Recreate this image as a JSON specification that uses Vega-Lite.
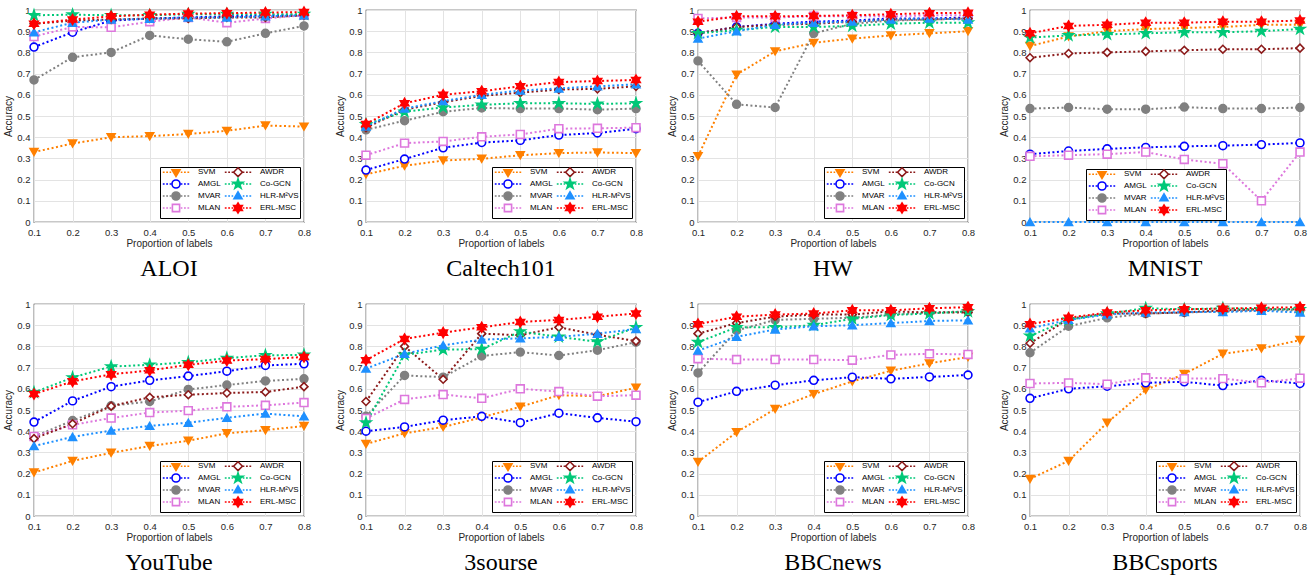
{
"$schema":"https://vega.github.io/schema/vega-lite/v6.json",
"background":"white",
"padding":{"left":3,"top":3,"right":0,"bottom":0},
"data":{"values":[
{"d":"ALOI","m":"SVM","x":0.1,"y":0.33},{"d":"ALOI","m":"SVM","x":0.2,"y":0.37},{"d":"ALOI","m":"SVM","x":0.3,"y":0.40},{"d":"ALOI","m":"SVM","x":0.4,"y":0.405},{"d":"ALOI","m":"SVM","x":0.5,"y":0.415},{"d":"ALOI","m":"SVM","x":0.6,"y":0.43},{"d":"ALOI","m":"SVM","x":0.7,"y":0.455},{"d":"ALOI","m":"SVM","x":0.8,"y":0.45},
{"d":"ALOI","m":"AMGL","x":0.1,"y":0.825},{"d":"ALOI","m":"AMGL","x":0.2,"y":0.895},{"d":"ALOI","m":"AMGL","x":0.3,"y":0.95},{"d":"ALOI","m":"AMGL","x":0.4,"y":0.96},{"d":"ALOI","m":"AMGL","x":0.5,"y":0.965},{"d":"ALOI","m":"AMGL","x":0.6,"y":0.97},{"d":"ALOI","m":"AMGL","x":0.7,"y":0.975},{"d":"ALOI","m":"AMGL","x":0.8,"y":0.975},
{"d":"ALOI","m":"MVAR","x":0.1,"y":0.67},{"d":"ALOI","m":"MVAR","x":0.2,"y":0.777},{"d":"ALOI","m":"MVAR","x":0.3,"y":0.80},{"d":"ALOI","m":"MVAR","x":0.4,"y":0.88},{"d":"ALOI","m":"MVAR","x":0.5,"y":0.862},{"d":"ALOI","m":"MVAR","x":0.6,"y":0.85},{"d":"ALOI","m":"MVAR","x":0.7,"y":0.89},{"d":"ALOI","m":"MVAR","x":0.8,"y":0.925},
{"d":"ALOI","m":"MLAN","x":0.1,"y":0.875},{"d":"ALOI","m":"MLAN","x":0.2,"y":0.92},{"d":"ALOI","m":"MLAN","x":0.3,"y":0.918},{"d":"ALOI","m":"MLAN","x":0.4,"y":0.945},{"d":"ALOI","m":"MLAN","x":0.5,"y":0.965},{"d":"ALOI","m":"MLAN","x":0.6,"y":0.94},{"d":"ALOI","m":"MLAN","x":0.7,"y":0.96},{"d":"ALOI","m":"MLAN","x":0.8,"y":0.975},
{"d":"ALOI","m":"AWDR","x":0.1,"y":0.935},{"d":"ALOI","m":"AWDR","x":0.2,"y":0.95},{"d":"ALOI","m":"AWDR","x":0.3,"y":0.955},{"d":"ALOI","m":"AWDR","x":0.4,"y":0.96},{"d":"ALOI","m":"AWDR","x":0.5,"y":0.96},{"d":"ALOI","m":"AWDR","x":0.6,"y":0.965},{"d":"ALOI","m":"AWDR","x":0.7,"y":0.965},{"d":"ALOI","m":"AWDR","x":0.8,"y":0.975},
{"d":"ALOI","m":"Co-GCN","x":0.1,"y":0.975},{"d":"ALOI","m":"Co-GCN","x":0.2,"y":0.978},{"d":"ALOI","m":"Co-GCN","x":0.3,"y":0.975},{"d":"ALOI","m":"Co-GCN","x":0.4,"y":0.975},{"d":"ALOI","m":"Co-GCN","x":0.5,"y":0.98},{"d":"ALOI","m":"Co-GCN","x":0.6,"y":0.98},{"d":"ALOI","m":"Co-GCN","x":0.7,"y":0.98},{"d":"ALOI","m":"Co-GCN","x":0.8,"y":0.98},
{"d":"ALOI","m":"HLR-M²VS","x":0.1,"y":0.895},{"d":"ALOI","m":"HLR-M²VS","x":0.2,"y":0.94},{"d":"ALOI","m":"HLR-M²VS","x":0.3,"y":0.955},{"d":"ALOI","m":"HLR-M²VS","x":0.4,"y":0.958},{"d":"ALOI","m":"HLR-M²VS","x":0.5,"y":0.965},{"d":"ALOI","m":"HLR-M²VS","x":0.6,"y":0.965},{"d":"ALOI","m":"HLR-M²VS","x":0.7,"y":0.97},{"d":"ALOI","m":"HLR-M²VS","x":0.8,"y":0.975},
{"d":"ALOI","m":"ERL-MSC","x":0.1,"y":0.935},{"d":"ALOI","m":"ERL-MSC","x":0.2,"y":0.955},{"d":"ALOI","m":"ERL-MSC","x":0.3,"y":0.97},{"d":"ALOI","m":"ERL-MSC","x":0.4,"y":0.978},{"d":"ALOI","m":"ERL-MSC","x":0.5,"y":0.983},{"d":"ALOI","m":"ERL-MSC","x":0.6,"y":0.985},{"d":"ALOI","m":"ERL-MSC","x":0.7,"y":0.988},{"d":"ALOI","m":"ERL-MSC","x":0.8,"y":0.99},

{"d":"Caltech101","m":"SVM","x":0.1,"y":0.225},{"d":"Caltech101","m":"SVM","x":0.2,"y":0.265},{"d":"Caltech101","m":"SVM","x":0.3,"y":0.29},{"d":"Caltech101","m":"SVM","x":0.4,"y":0.298},{"d":"Caltech101","m":"SVM","x":0.5,"y":0.315},{"d":"Caltech101","m":"SVM","x":0.6,"y":0.325},{"d":"Caltech101","m":"SVM","x":0.7,"y":0.328},{"d":"Caltech101","m":"SVM","x":0.8,"y":0.325},
{"d":"Caltech101","m":"AMGL","x":0.1,"y":0.245},{"d":"Caltech101","m":"AMGL","x":0.2,"y":0.297},{"d":"Caltech101","m":"AMGL","x":0.3,"y":0.35},{"d":"Caltech101","m":"AMGL","x":0.4,"y":0.375},{"d":"Caltech101","m":"AMGL","x":0.5,"y":0.385},{"d":"Caltech101","m":"AMGL","x":0.6,"y":0.41},{"d":"Caltech101","m":"AMGL","x":0.7,"y":0.42},{"d":"Caltech101","m":"AMGL","x":0.8,"y":0.44},
{"d":"Caltech101","m":"MVAR","x":0.1,"y":0.435},{"d":"Caltech101","m":"MVAR","x":0.2,"y":0.478},{"d":"Caltech101","m":"MVAR","x":0.3,"y":0.52},{"d":"Caltech101","m":"MVAR","x":0.4,"y":0.538},{"d":"Caltech101","m":"MVAR","x":0.5,"y":0.535},{"d":"Caltech101","m":"MVAR","x":0.6,"y":0.535},{"d":"Caltech101","m":"MVAR","x":0.7,"y":0.53},{"d":"Caltech101","m":"MVAR","x":0.8,"y":0.535},
{"d":"Caltech101","m":"MLAN","x":0.1,"y":0.315},{"d":"Caltech101","m":"MLAN","x":0.2,"y":0.372},{"d":"Caltech101","m":"MLAN","x":0.3,"y":0.38},{"d":"Caltech101","m":"MLAN","x":0.4,"y":0.402},{"d":"Caltech101","m":"MLAN","x":0.5,"y":0.413},{"d":"Caltech101","m":"MLAN","x":0.6,"y":0.44},{"d":"Caltech101","m":"MLAN","x":0.7,"y":0.442},{"d":"Caltech101","m":"MLAN","x":0.8,"y":0.445},
{"d":"Caltech101","m":"AWDR","x":0.1,"y":0.445},{"d":"Caltech101","m":"AWDR","x":0.2,"y":0.53},{"d":"Caltech101","m":"AWDR","x":0.3,"y":0.565},{"d":"Caltech101","m":"AWDR","x":0.4,"y":0.595},{"d":"Caltech101","m":"AWDR","x":0.5,"y":0.61},{"d":"Caltech101","m":"AWDR","x":0.6,"y":0.625},{"d":"Caltech101","m":"AWDR","x":0.7,"y":0.628},{"d":"Caltech101","m":"AWDR","x":0.8,"y":0.64},
{"d":"Caltech101","m":"Co-GCN","x":0.1,"y":0.46},{"d":"Caltech101","m":"Co-GCN","x":0.2,"y":0.52},{"d":"Caltech101","m":"Co-GCN","x":0.3,"y":0.54},{"d":"Caltech101","m":"Co-GCN","x":0.4,"y":0.553},{"d":"Caltech101","m":"Co-GCN","x":0.5,"y":0.56},{"d":"Caltech101","m":"Co-GCN","x":0.6,"y":0.56},{"d":"Caltech101","m":"Co-GCN","x":0.7,"y":0.557},{"d":"Caltech101","m":"Co-GCN","x":0.8,"y":0.56},
{"d":"Caltech101","m":"HLR-M²VS","x":0.1,"y":0.45},{"d":"Caltech101","m":"HLR-M²VS","x":0.2,"y":0.535},{"d":"Caltech101","m":"HLR-M²VS","x":0.3,"y":0.57},{"d":"Caltech101","m":"HLR-M²VS","x":0.4,"y":0.60},{"d":"Caltech101","m":"HLR-M²VS","x":0.5,"y":0.62},{"d":"Caltech101","m":"HLR-M²VS","x":0.6,"y":0.63},{"d":"Caltech101","m":"HLR-M²VS","x":0.7,"y":0.64},{"d":"Caltech101","m":"HLR-M²VS","x":0.8,"y":0.65},
{"d":"Caltech101","m":"ERL-MSC","x":0.1,"y":0.462},{"d":"Caltech101","m":"ERL-MSC","x":0.2,"y":0.56},{"d":"Caltech101","m":"ERL-MSC","x":0.3,"y":0.60},{"d":"Caltech101","m":"ERL-MSC","x":0.4,"y":0.617},{"d":"Caltech101","m":"ERL-MSC","x":0.5,"y":0.64},{"d":"Caltech101","m":"ERL-MSC","x":0.6,"y":0.66},{"d":"Caltech101","m":"ERL-MSC","x":0.7,"y":0.665},{"d":"Caltech101","m":"ERL-MSC","x":0.8,"y":0.67},

{"d":"HW","m":"SVM","x":0.1,"y":0.31},{"d":"HW","m":"SVM","x":0.2,"y":0.695},{"d":"HW","m":"SVM","x":0.3,"y":0.805},{"d":"HW","m":"SVM","x":0.4,"y":0.845},{"d":"HW","m":"SVM","x":0.5,"y":0.865},{"d":"HW","m":"SVM","x":0.6,"y":0.88},{"d":"HW","m":"SVM","x":0.7,"y":0.89},{"d":"HW","m":"SVM","x":0.8,"y":0.90},
{"d":"HW","m":"AMGL","x":0.1,"y":0.89},{"d":"HW","m":"AMGL","x":0.2,"y":0.92},{"d":"HW","m":"AMGL","x":0.3,"y":0.935},{"d":"HW","m":"AMGL","x":0.4,"y":0.945},{"d":"HW","m":"AMGL","x":0.5,"y":0.95},{"d":"HW","m":"AMGL","x":0.6,"y":0.96},{"d":"HW","m":"AMGL","x":0.7,"y":0.96},{"d":"HW","m":"AMGL","x":0.8,"y":0.965},
{"d":"HW","m":"MVAR","x":0.1,"y":0.76},{"d":"HW","m":"MVAR","x":0.2,"y":0.555},{"d":"HW","m":"MVAR","x":0.3,"y":0.54},{"d":"HW","m":"MVAR","x":0.4,"y":0.89},{"d":"HW","m":"MVAR","x":0.5,"y":0.935},{"d":"HW","m":"MVAR","x":0.6,"y":0.95},{"d":"HW","m":"MVAR","x":0.7,"y":0.955},{"d":"HW","m":"MVAR","x":0.8,"y":0.96},
{"d":"HW","m":"MLAN","x":0.1,"y":0.96},{"d":"HW","m":"MLAN","x":0.2,"y":0.965},{"d":"HW","m":"MLAN","x":0.3,"y":0.965},{"d":"HW","m":"MLAN","x":0.4,"y":0.97},{"d":"HW","m":"MLAN","x":0.5,"y":0.97},{"d":"HW","m":"MLAN","x":0.6,"y":0.97},{"d":"HW","m":"MLAN","x":0.7,"y":0.975},{"d":"HW","m":"MLAN","x":0.8,"y":0.975},
{"d":"HW","m":"AWDR","x":0.1,"y":0.89},{"d":"HW","m":"AWDR","x":0.2,"y":0.92},{"d":"HW","m":"AWDR","x":0.3,"y":0.93},{"d":"HW","m":"AWDR","x":0.4,"y":0.935},{"d":"HW","m":"AWDR","x":0.5,"y":0.945},{"d":"HW","m":"AWDR","x":0.6,"y":0.955},{"d":"HW","m":"AWDR","x":0.7,"y":0.955},{"d":"HW","m":"AWDR","x":0.8,"y":0.96},
{"d":"HW","m":"Co-GCN","x":0.1,"y":0.89},{"d":"HW","m":"Co-GCN","x":0.2,"y":0.905},{"d":"HW","m":"Co-GCN","x":0.3,"y":0.92},{"d":"HW","m":"Co-GCN","x":0.4,"y":0.92},{"d":"HW","m":"Co-GCN","x":0.5,"y":0.925},{"d":"HW","m":"Co-GCN","x":0.6,"y":0.935},{"d":"HW","m":"Co-GCN","x":0.7,"y":0.94},{"d":"HW","m":"Co-GCN","x":0.8,"y":0.94},
{"d":"HW","m":"HLR-M²VS","x":0.1,"y":0.865},{"d":"HW","m":"HLR-M²VS","x":0.2,"y":0.90},{"d":"HW","m":"HLR-M²VS","x":0.3,"y":0.93},{"d":"HW","m":"HLR-M²VS","x":0.4,"y":0.94},{"d":"HW","m":"HLR-M²VS","x":0.5,"y":0.945},{"d":"HW","m":"HLR-M²VS","x":0.6,"y":0.955},{"d":"HW","m":"HLR-M²VS","x":0.7,"y":0.96},{"d":"HW","m":"HLR-M²VS","x":0.8,"y":0.955},
{"d":"HW","m":"ERL-MSC","x":0.1,"y":0.945},{"d":"HW","m":"ERL-MSC","x":0.2,"y":0.97},{"d":"HW","m":"ERL-MSC","x":0.3,"y":0.97},{"d":"HW","m":"ERL-MSC","x":0.4,"y":0.972},{"d":"HW","m":"ERL-MSC","x":0.5,"y":0.975},{"d":"HW","m":"ERL-MSC","x":0.6,"y":0.98},{"d":"HW","m":"ERL-MSC","x":0.7,"y":0.985},{"d":"HW","m":"ERL-MSC","x":0.8,"y":0.987},

{"d":"MNIST","m":"SVM","x":0.1,"y":0.83},{"d":"MNIST","m":"SVM","x":0.2,"y":0.875},{"d":"MNIST","m":"SVM","x":0.3,"y":0.90},{"d":"MNIST","m":"SVM","x":0.4,"y":0.91},{"d":"MNIST","m":"SVM","x":0.5,"y":0.915},{"d":"MNIST","m":"SVM","x":0.6,"y":0.92},{"d":"MNIST","m":"SVM","x":0.7,"y":0.93},{"d":"MNIST","m":"SVM","x":0.8,"y":0.93},
{"d":"MNIST","m":"AMGL","x":0.1,"y":0.32},{"d":"MNIST","m":"AMGL","x":0.2,"y":0.335},{"d":"MNIST","m":"AMGL","x":0.3,"y":0.345},{"d":"MNIST","m":"AMGL","x":0.4,"y":0.352},{"d":"MNIST","m":"AMGL","x":0.5,"y":0.357},{"d":"MNIST","m":"AMGL","x":0.6,"y":0.36},{"d":"MNIST","m":"AMGL","x":0.7,"y":0.365},{"d":"MNIST","m":"AMGL","x":0.8,"y":0.373},
{"d":"MNIST","m":"MVAR","x":0.1,"y":0.535},{"d":"MNIST","m":"MVAR","x":0.2,"y":0.54},{"d":"MNIST","m":"MVAR","x":0.3,"y":0.532},{"d":"MNIST","m":"MVAR","x":0.4,"y":0.532},{"d":"MNIST","m":"MVAR","x":0.5,"y":0.542},{"d":"MNIST","m":"MVAR","x":0.6,"y":0.535},{"d":"MNIST","m":"MVAR","x":0.7,"y":0.535},{"d":"MNIST","m":"MVAR","x":0.8,"y":0.54},
{"d":"MNIST","m":"MLAN","x":0.1,"y":0.31},{"d":"MNIST","m":"MLAN","x":0.2,"y":0.315},{"d":"MNIST","m":"MLAN","x":0.3,"y":0.32},{"d":"MNIST","m":"MLAN","x":0.4,"y":0.33},{"d":"MNIST","m":"MLAN","x":0.5,"y":0.295},{"d":"MNIST","m":"MLAN","x":0.6,"y":0.275},{"d":"MNIST","m":"MLAN","x":0.7,"y":0.10},{"d":"MNIST","m":"MLAN","x":0.8,"y":0.33},
{"d":"MNIST","m":"AWDR","x":0.1,"y":0.775},{"d":"MNIST","m":"AWDR","x":0.2,"y":0.795},{"d":"MNIST","m":"AWDR","x":0.3,"y":0.80},{"d":"MNIST","m":"AWDR","x":0.4,"y":0.805},{"d":"MNIST","m":"AWDR","x":0.5,"y":0.81},{"d":"MNIST","m":"AWDR","x":0.6,"y":0.815},{"d":"MNIST","m":"AWDR","x":0.7,"y":0.815},{"d":"MNIST","m":"AWDR","x":0.8,"y":0.82},
{"d":"MNIST","m":"Co-GCN","x":0.1,"y":0.87},{"d":"MNIST","m":"Co-GCN","x":0.2,"y":0.88},{"d":"MNIST","m":"Co-GCN","x":0.3,"y":0.885},{"d":"MNIST","m":"Co-GCN","x":0.4,"y":0.89},{"d":"MNIST","m":"Co-GCN","x":0.5,"y":0.895},{"d":"MNIST","m":"Co-GCN","x":0.6,"y":0.895},{"d":"MNIST","m":"Co-GCN","x":0.7,"y":0.90},{"d":"MNIST","m":"Co-GCN","x":0.8,"y":0.91},
{"d":"MNIST","m":"HLR-M²VS","x":0.1,"y":0},{"d":"MNIST","m":"HLR-M²VS","x":0.2,"y":0},{"d":"MNIST","m":"HLR-M²VS","x":0.3,"y":0},{"d":"MNIST","m":"HLR-M²VS","x":0.4,"y":0},{"d":"MNIST","m":"HLR-M²VS","x":0.5,"y":0},{"d":"MNIST","m":"HLR-M²VS","x":0.6,"y":0},{"d":"MNIST","m":"HLR-M²VS","x":0.7,"y":0},{"d":"MNIST","m":"HLR-M²VS","x":0.8,"y":0},
{"d":"MNIST","m":"ERL-MSC","x":0.1,"y":0.89},{"d":"MNIST","m":"ERL-MSC","x":0.2,"y":0.925},{"d":"MNIST","m":"ERL-MSC","x":0.3,"y":0.93},{"d":"MNIST","m":"ERL-MSC","x":0.4,"y":0.94},{"d":"MNIST","m":"ERL-MSC","x":0.5,"y":0.94},{"d":"MNIST","m":"ERL-MSC","x":0.6,"y":0.945},{"d":"MNIST","m":"ERL-MSC","x":0.7,"y":0.945},{"d":"MNIST","m":"ERL-MSC","x":0.8,"y":0.95},

{"d":"YouTube","m":"SVM","x":0.1,"y":0.205},{"d":"YouTube","m":"SVM","x":0.2,"y":0.26},{"d":"YouTube","m":"SVM","x":0.3,"y":0.298},{"d":"YouTube","m":"SVM","x":0.4,"y":0.33},{"d":"YouTube","m":"SVM","x":0.5,"y":0.355},{"d":"YouTube","m":"SVM","x":0.6,"y":0.39},{"d":"YouTube","m":"SVM","x":0.7,"y":0.405},{"d":"YouTube","m":"SVM","x":0.8,"y":0.425},
{"d":"YouTube","m":"AMGL","x":0.1,"y":0.443},{"d":"YouTube","m":"AMGL","x":0.2,"y":0.543},{"d":"YouTube","m":"AMGL","x":0.3,"y":0.61},{"d":"YouTube","m":"AMGL","x":0.4,"y":0.64},{"d":"YouTube","m":"AMGL","x":0.5,"y":0.66},{"d":"YouTube","m":"AMGL","x":0.6,"y":0.683},{"d":"YouTube","m":"AMGL","x":0.7,"y":0.71},{"d":"YouTube","m":"AMGL","x":0.8,"y":0.718},
{"d":"YouTube","m":"MVAR","x":0.1,"y":0.375},{"d":"YouTube","m":"MVAR","x":0.2,"y":0.45},{"d":"YouTube","m":"MVAR","x":0.3,"y":0.52},{"d":"YouTube","m":"MVAR","x":0.4,"y":0.54},{"d":"YouTube","m":"MVAR","x":0.5,"y":0.597},{"d":"YouTube","m":"MVAR","x":0.6,"y":0.618},{"d":"YouTube","m":"MVAR","x":0.7,"y":0.637},{"d":"YouTube","m":"MVAR","x":0.8,"y":0.647},
{"d":"YouTube","m":"MLAN","x":0.1,"y":0.375},{"d":"YouTube","m":"MLAN","x":0.2,"y":0.43},{"d":"YouTube","m":"MLAN","x":0.3,"y":0.462},{"d":"YouTube","m":"MLAN","x":0.4,"y":0.488},{"d":"YouTube","m":"MLAN","x":0.5,"y":0.497},{"d":"YouTube","m":"MLAN","x":0.6,"y":0.515},{"d":"YouTube","m":"MLAN","x":0.7,"y":0.522},{"d":"YouTube","m":"MLAN","x":0.8,"y":0.535},
{"d":"YouTube","m":"AWDR","x":0.1,"y":0.365},{"d":"YouTube","m":"AWDR","x":0.2,"y":0.435},{"d":"YouTube","m":"AWDR","x":0.3,"y":0.518},{"d":"YouTube","m":"AWDR","x":0.4,"y":0.56},{"d":"YouTube","m":"AWDR","x":0.5,"y":0.572},{"d":"YouTube","m":"AWDR","x":0.6,"y":0.58},{"d":"YouTube","m":"AWDR","x":0.7,"y":0.585},{"d":"YouTube","m":"AWDR","x":0.8,"y":0.61},
{"d":"YouTube","m":"Co-GCN","x":0.1,"y":0.583},{"d":"YouTube","m":"Co-GCN","x":0.2,"y":0.653},{"d":"YouTube","m":"Co-GCN","x":0.3,"y":0.705},{"d":"YouTube","m":"Co-GCN","x":0.4,"y":0.713},{"d":"YouTube","m":"Co-GCN","x":0.5,"y":0.725},{"d":"YouTube","m":"Co-GCN","x":0.6,"y":0.745},{"d":"YouTube","m":"Co-GCN","x":0.7,"y":0.758},{"d":"YouTube","m":"Co-GCN","x":0.8,"y":0.76},
{"d":"YouTube","m":"HLR-M²VS","x":0.1,"y":0.33},{"d":"YouTube","m":"HLR-M²VS","x":0.2,"y":0.373},{"d":"YouTube","m":"HLR-M²VS","x":0.3,"y":0.403},{"d":"YouTube","m":"HLR-M²VS","x":0.4,"y":0.425},{"d":"YouTube","m":"HLR-M²VS","x":0.5,"y":0.44},{"d":"YouTube","m":"HLR-M²VS","x":0.6,"y":0.463},{"d":"YouTube","m":"HLR-M²VS","x":0.7,"y":0.483},{"d":"YouTube","m":"HLR-M²VS","x":0.8,"y":0.47},
{"d":"YouTube","m":"ERL-MSC","x":0.1,"y":0.575},{"d":"YouTube","m":"ERL-MSC","x":0.2,"y":0.635},{"d":"YouTube","m":"ERL-MSC","x":0.3,"y":0.668},{"d":"YouTube","m":"ERL-MSC","x":0.4,"y":0.687},{"d":"YouTube","m":"ERL-MSC","x":0.5,"y":0.713},{"d":"YouTube","m":"ERL-MSC","x":0.6,"y":0.733},{"d":"YouTube","m":"ERL-MSC","x":0.7,"y":0.74},{"d":"YouTube","m":"ERL-MSC","x":0.8,"y":0.75},

{"d":"3sourse","m":"SVM","x":0.1,"y":0.34},{"d":"3sourse","m":"SVM","x":0.2,"y":0.39},{"d":"3sourse","m":"SVM","x":0.3,"y":0.42},{"d":"3sourse","m":"SVM","x":0.4,"y":0.465},{"d":"3sourse","m":"SVM","x":0.5,"y":0.515},{"d":"3sourse","m":"SVM","x":0.6,"y":0.57},{"d":"3sourse","m":"SVM","x":0.7,"y":0.565},{"d":"3sourse","m":"SVM","x":0.8,"y":0.605},
{"d":"3sourse","m":"AMGL","x":0.1,"y":0.40},{"d":"3sourse","m":"AMGL","x":0.2,"y":0.42},{"d":"3sourse","m":"AMGL","x":0.3,"y":0.452},{"d":"3sourse","m":"AMGL","x":0.4,"y":0.47},{"d":"3sourse","m":"AMGL","x":0.5,"y":0.44},{"d":"3sourse","m":"AMGL","x":0.6,"y":0.485},{"d":"3sourse","m":"AMGL","x":0.7,"y":0.463},{"d":"3sourse","m":"AMGL","x":0.8,"y":0.445},
{"d":"3sourse","m":"MVAR","x":0.1,"y":0.47},{"d":"3sourse","m":"MVAR","x":0.2,"y":0.663},{"d":"3sourse","m":"MVAR","x":0.3,"y":0.655},{"d":"3sourse","m":"MVAR","x":0.4,"y":0.755},{"d":"3sourse","m":"MVAR","x":0.5,"y":0.773},{"d":"3sourse","m":"MVAR","x":0.6,"y":0.757},{"d":"3sourse","m":"MVAR","x":0.7,"y":0.782},{"d":"3sourse","m":"MVAR","x":0.8,"y":0.82},
{"d":"3sourse","m":"MLAN","x":0.1,"y":0.46},{"d":"3sourse","m":"MLAN","x":0.2,"y":0.55},{"d":"3sourse","m":"MLAN","x":0.3,"y":0.573},{"d":"3sourse","m":"MLAN","x":0.4,"y":0.555},{"d":"3sourse","m":"MLAN","x":0.5,"y":0.60},{"d":"3sourse","m":"MLAN","x":0.6,"y":0.587},{"d":"3sourse","m":"MLAN","x":0.7,"y":0.565},{"d":"3sourse","m":"MLAN","x":0.8,"y":0.57},
{"d":"3sourse","m":"AWDR","x":0.1,"y":0.54},{"d":"3sourse","m":"AWDR","x":0.2,"y":0.80},{"d":"3sourse","m":"AWDR","x":0.3,"y":0.645},{"d":"3sourse","m":"AWDR","x":0.4,"y":0.86},{"d":"3sourse","m":"AWDR","x":0.5,"y":0.853},{"d":"3sourse","m":"AWDR","x":0.6,"y":0.89},{"d":"3sourse","m":"AWDR","x":0.7,"y":0.855},{"d":"3sourse","m":"AWDR","x":0.8,"y":0.825},
{"d":"3sourse","m":"Co-GCN","x":0.1,"y":0.44},{"d":"3sourse","m":"Co-GCN","x":0.2,"y":0.76},{"d":"3sourse","m":"Co-GCN","x":0.3,"y":0.785},{"d":"3sourse","m":"Co-GCN","x":0.4,"y":0.787},{"d":"3sourse","m":"Co-GCN","x":0.5,"y":0.87},{"d":"3sourse","m":"Co-GCN","x":0.6,"y":0.845},{"d":"3sourse","m":"Co-GCN","x":0.7,"y":0.822},{"d":"3sourse","m":"Co-GCN","x":0.8,"y":0.89},
{"d":"3sourse","m":"HLR-M²VS","x":0.1,"y":0.695},{"d":"3sourse","m":"HLR-M²VS","x":0.2,"y":0.765},{"d":"3sourse","m":"HLR-M²VS","x":0.3,"y":0.805},{"d":"3sourse","m":"HLR-M²VS","x":0.4,"y":0.832},{"d":"3sourse","m":"HLR-M²VS","x":0.5,"y":0.838},{"d":"3sourse","m":"HLR-M²VS","x":0.6,"y":0.845},{"d":"3sourse","m":"HLR-M²VS","x":0.7,"y":0.86},{"d":"3sourse","m":"HLR-M²VS","x":0.8,"y":0.882},
{"d":"3sourse","m":"ERL-MSC","x":0.1,"y":0.735},{"d":"3sourse","m":"ERL-MSC","x":0.2,"y":0.835},{"d":"3sourse","m":"ERL-MSC","x":0.3,"y":0.865},{"d":"3sourse","m":"ERL-MSC","x":0.4,"y":0.89},{"d":"3sourse","m":"ERL-MSC","x":0.5,"y":0.915},{"d":"3sourse","m":"ERL-MSC","x":0.6,"y":0.925},{"d":"3sourse","m":"ERL-MSC","x":0.7,"y":0.94},{"d":"3sourse","m":"ERL-MSC","x":0.8,"y":0.955},

{"d":"BBCnews","m":"SVM","x":0.1,"y":0.255},{"d":"BBCnews","m":"SVM","x":0.2,"y":0.395},{"d":"BBCnews","m":"SVM","x":0.3,"y":0.505},{"d":"BBCnews","m":"SVM","x":0.4,"y":0.575},{"d":"BBCnews","m":"SVM","x":0.5,"y":0.635},{"d":"BBCnews","m":"SVM","x":0.6,"y":0.685},{"d":"BBCnews","m":"SVM","x":0.7,"y":0.72},{"d":"BBCnews","m":"SVM","x":0.8,"y":0.75},
{"d":"BBCnews","m":"AMGL","x":0.1,"y":0.537},{"d":"BBCnews","m":"AMGL","x":0.2,"y":0.588},{"d":"BBCnews","m":"AMGL","x":0.3,"y":0.617},{"d":"BBCnews","m":"AMGL","x":0.4,"y":0.64},{"d":"BBCnews","m":"AMGL","x":0.5,"y":0.655},{"d":"BBCnews","m":"AMGL","x":0.6,"y":0.647},{"d":"BBCnews","m":"AMGL","x":0.7,"y":0.656},{"d":"BBCnews","m":"AMGL","x":0.8,"y":0.665},
{"d":"BBCnews","m":"MVAR","x":0.1,"y":0.675},{"d":"BBCnews","m":"MVAR","x":0.2,"y":0.875},{"d":"BBCnews","m":"MVAR","x":0.3,"y":0.925},{"d":"BBCnews","m":"MVAR","x":0.4,"y":0.93},{"d":"BBCnews","m":"MVAR","x":0.5,"y":0.935},{"d":"BBCnews","m":"MVAR","x":0.6,"y":0.95},{"d":"BBCnews","m":"MVAR","x":0.7,"y":0.96},{"d":"BBCnews","m":"MVAR","x":0.8,"y":0.965},
{"d":"BBCnews","m":"MLAN","x":0.1,"y":0.742},{"d":"BBCnews","m":"MLAN","x":0.2,"y":0.738},{"d":"BBCnews","m":"MLAN","x":0.3,"y":0.738},{"d":"BBCnews","m":"MLAN","x":0.4,"y":0.738},{"d":"BBCnews","m":"MLAN","x":0.5,"y":0.735},{"d":"BBCnews","m":"MLAN","x":0.6,"y":0.76},{"d":"BBCnews","m":"MLAN","x":0.7,"y":0.765},{"d":"BBCnews","m":"MLAN","x":0.8,"y":0.762},
{"d":"BBCnews","m":"AWDR","x":0.1,"y":0.86},{"d":"BBCnews","m":"AWDR","x":0.2,"y":0.91},{"d":"BBCnews","m":"AWDR","x":0.3,"y":0.94},{"d":"BBCnews","m":"AWDR","x":0.4,"y":0.95},{"d":"BBCnews","m":"AWDR","x":0.5,"y":0.95},{"d":"BBCnews","m":"AWDR","x":0.6,"y":0.965},{"d":"BBCnews","m":"AWDR","x":0.7,"y":0.96},{"d":"BBCnews","m":"AWDR","x":0.8,"y":0.96},
{"d":"BBCnews","m":"Co-GCN","x":0.1,"y":0.82},{"d":"BBCnews","m":"Co-GCN","x":0.2,"y":0.89},{"d":"BBCnews","m":"Co-GCN","x":0.3,"y":0.89},{"d":"BBCnews","m":"Co-GCN","x":0.4,"y":0.90},{"d":"BBCnews","m":"Co-GCN","x":0.5,"y":0.93},{"d":"BBCnews","m":"Co-GCN","x":0.6,"y":0.948},{"d":"BBCnews","m":"Co-GCN","x":0.7,"y":0.955},{"d":"BBCnews","m":"Co-GCN","x":0.8,"y":0.965},
{"d":"BBCnews","m":"HLR-M²VS","x":0.1,"y":0.78},{"d":"BBCnews","m":"HLR-M²VS","x":0.2,"y":0.845},{"d":"BBCnews","m":"HLR-M²VS","x":0.3,"y":0.88},{"d":"BBCnews","m":"HLR-M²VS","x":0.4,"y":0.895},{"d":"BBCnews","m":"HLR-M²VS","x":0.5,"y":0.90},{"d":"BBCnews","m":"HLR-M²VS","x":0.6,"y":0.91},{"d":"BBCnews","m":"HLR-M²VS","x":0.7,"y":0.92},{"d":"BBCnews","m":"HLR-M²VS","x":0.8,"y":0.923},
{"d":"BBCnews","m":"ERL-MSC","x":0.1,"y":0.905},{"d":"BBCnews","m":"ERL-MSC","x":0.2,"y":0.94},{"d":"BBCnews","m":"ERL-MSC","x":0.3,"y":0.95},{"d":"BBCnews","m":"ERL-MSC","x":0.4,"y":0.955},{"d":"BBCnews","m":"ERL-MSC","x":0.5,"y":0.97},{"d":"BBCnews","m":"ERL-MSC","x":0.6,"y":0.97},{"d":"BBCnews","m":"ERL-MSC","x":0.7,"y":0.98},{"d":"BBCnews","m":"ERL-MSC","x":0.8,"y":0.985},

{"d":"BBCsports","m":"SVM","x":0.1,"y":0.175},{"d":"BBCsports","m":"SVM","x":0.2,"y":0.26},{"d":"BBCsports","m":"SVM","x":0.3,"y":0.44},{"d":"BBCsports","m":"SVM","x":0.4,"y":0.595},{"d":"BBCsports","m":"SVM","x":0.5,"y":0.67},{"d":"BBCsports","m":"SVM","x":0.6,"y":0.765},{"d":"BBCsports","m":"SVM","x":0.7,"y":0.79},{"d":"BBCsports","m":"SVM","x":0.8,"y":0.83},
{"d":"BBCsports","m":"AMGL","x":0.1,"y":0.555},{"d":"BBCsports","m":"AMGL","x":0.2,"y":0.60},{"d":"BBCsports","m":"AMGL","x":0.3,"y":0.612},{"d":"BBCsports","m":"AMGL","x":0.4,"y":0.628},{"d":"BBCsports","m":"AMGL","x":0.5,"y":0.633},{"d":"BBCsports","m":"AMGL","x":0.6,"y":0.615},{"d":"BBCsports","m":"AMGL","x":0.7,"y":0.64},{"d":"BBCsports","m":"AMGL","x":0.8,"y":0.625},
{"d":"BBCsports","m":"MVAR","x":0.1,"y":0.77},{"d":"BBCsports","m":"MVAR","x":0.2,"y":0.895},{"d":"BBCsports","m":"MVAR","x":0.3,"y":0.935},{"d":"BBCsports","m":"MVAR","x":0.4,"y":0.955},{"d":"BBCsports","m":"MVAR","x":0.5,"y":0.96},{"d":"BBCsports","m":"MVAR","x":0.6,"y":0.965},{"d":"BBCsports","m":"MVAR","x":0.7,"y":0.97},{"d":"BBCsports","m":"MVAR","x":0.8,"y":0.97},
{"d":"BBCsports","m":"MLAN","x":0.1,"y":0.625},{"d":"BBCsports","m":"MLAN","x":0.2,"y":0.628},{"d":"BBCsports","m":"MLAN","x":0.3,"y":0.622},{"d":"BBCsports","m":"MLAN","x":0.4,"y":0.652},{"d":"BBCsports","m":"MLAN","x":0.5,"y":0.648},{"d":"BBCsports","m":"MLAN","x":0.6,"y":0.648},{"d":"BBCsports","m":"MLAN","x":0.7,"y":0.628},{"d":"BBCsports","m":"MLAN","x":0.8,"y":0.65},
{"d":"BBCsports","m":"AWDR","x":0.1,"y":0.815},{"d":"BBCsports","m":"AWDR","x":0.2,"y":0.93},{"d":"BBCsports","m":"AWDR","x":0.3,"y":0.955},{"d":"BBCsports","m":"AWDR","x":0.4,"y":0.955},{"d":"BBCsports","m":"AWDR","x":0.5,"y":0.96},{"d":"BBCsports","m":"AWDR","x":0.6,"y":0.97},{"d":"BBCsports","m":"AWDR","x":0.7,"y":0.975},{"d":"BBCsports","m":"AWDR","x":0.8,"y":0.975},
{"d":"BBCsports","m":"Co-GCN","x":0.1,"y":0.85},{"d":"BBCsports","m":"Co-GCN","x":0.2,"y":0.925},{"d":"BBCsports","m":"Co-GCN","x":0.3,"y":0.955},{"d":"BBCsports","m":"Co-GCN","x":0.4,"y":0.98},{"d":"BBCsports","m":"Co-GCN","x":0.5,"y":0.975},{"d":"BBCsports","m":"Co-GCN","x":0.6,"y":0.98},{"d":"BBCsports","m":"Co-GCN","x":0.7,"y":0.975},{"d":"BBCsports","m":"Co-GCN","x":0.8,"y":0.975},
{"d":"BBCsports","m":"HLR-M²VS","x":0.1,"y":0.885},{"d":"BBCsports","m":"HLR-M²VS","x":0.2,"y":0.925},{"d":"BBCsports","m":"HLR-M²VS","x":0.3,"y":0.95},{"d":"BBCsports","m":"HLR-M²VS","x":0.4,"y":0.96},{"d":"BBCsports","m":"HLR-M²VS","x":0.5,"y":0.962},{"d":"BBCsports","m":"HLR-M²VS","x":0.6,"y":0.962},{"d":"BBCsports","m":"HLR-M²VS","x":0.7,"y":0.968},{"d":"BBCsports","m":"HLR-M²VS","x":0.8,"y":0.96},
{"d":"BBCsports","m":"ERL-MSC","x":0.1,"y":0.905},{"d":"BBCsports","m":"ERL-MSC","x":0.2,"y":0.935},{"d":"BBCsports","m":"ERL-MSC","x":0.3,"y":0.96},{"d":"BBCsports","m":"ERL-MSC","x":0.4,"y":0.97},{"d":"BBCsports","m":"ERL-MSC","x":0.5,"y":0.975},{"d":"BBCsports","m":"ERL-MSC","x":0.6,"y":0.978},{"d":"BBCsports","m":"ERL-MSC","x":0.7,"y":0.982},{"d":"BBCsports","m":"ERL-MSC","x":0.8,"y":0.985}
]},
"columns":4,
"spacing":{"row":16,"column":22},
"resolve":{"scale":{"color":"independent","stroke":"independent","fill":"independent","shape":"independent"},"legend":{"color":"independent","stroke":"independent","fill":"independent","shape":"independent"}},
"concat":[
{"title":"ALOI","width":270,"height":212,"transform":[{"filter":"datum.d==='ALOI'"}],
"encoding":{"x":{"field":"x","type":"quantitative","scale":{"domain":[0.1,0.8],"nice":false,"zero":false},"axis":{"values":[0.1,0.2,0.3,0.4,0.5,0.6,0.7,0.8],"format":".1f","title":"Proportion of labels"}},"y":{"field":"y","type":"quantitative","scale":{"domain":[0,1],"nice":false},"axis":{"values":[0,0.1,0.2,0.3,0.4,0.5,0.6,0.7,0.8,0.9,1],"format":".1~f","title":"Accuracy"}}},
"resolve":{"scale":{"stroke":"independent","fill":"independent","shape":"independent"},"legend":{"stroke":"independent","fill":"independent","shape":"independent"}},
"layer":[
{"mark":{"type":"line","strokeDash":[2,2.5],"strokeWidth":2},"encoding":{"color":{"field":"m","type":"nominal","legend":null,"scale":{"domain":["SVM","AMGL","MVAR","MLAN","AWDR","Co-GCN","HLR-M²VS","ERL-MSC","_"],"range":["#FF8000","#0000FF","#808080","#DD77DD","#8B1A1A","#00C878","#1E90FF","#FF0000","#000000"]}}}},
{"mark":{"type":"point","size":62,"strokeWidth":1.6,"opacity":1},"encoding":{"stroke":{"field":"m","type":"nominal","legend":null,"scale":{"domain":["SVM","AMGL","MVAR","MLAN","AWDR","Co-GCN","HLR-M²VS","ERL-MSC","_"],"range":["#FF8000","#0000FF","#808080","#DD77DD","#8B1A1A","#00C878","#1E90FF","#FF0000","#000000"]}},"fill":{"field":"m","type":"nominal","legend":null,"scale":{"domain":["SVM","AMGL","MVAR","MLAN","AWDR","Co-GCN","HLR-M²VS","ERL-MSC","_"],"range":["#FF8000","#ffffff","#808080","#ffffff","#ffffff","#00C878","#1E90FF","#FF0000","#000000"]}},"shape":{"field":"m","type":"nominal","legend":null,"scale":{"domain":["SVM","AMGL","MVAR","MLAN","AWDR","Co-GCN","HLR-M²VS","ERL-MSC","_"],"range":["triangle-down","circle","circle","square","diamond","M0,-1.3L0.292,-0.402L1.236,-0.402L0.472,0.153L0.764,1.052L0,0.497L-0.764,1.052L-0.472,0.153L-1.236,-0.402L-0.292,-0.402Z","triangle-up","M0,-1.25L0.361,-0.625L1.083,-0.625L0.721,0L1.083,0.625L0.361,0.625L0,1.25L-0.361,0.625L-1.083,0.625L-0.721,0L-1.083,-0.625L-0.361,-0.625Z","circle"]}}}},
{"transform":[{"filter":"false"}],"mark":{"type":"point","size":16,"strokeWidth":1.6,"opacity":1},"encoding":{"stroke":{"field":"m","type":"nominal","legend":{"title":null},"scale":{"domain":["SVM","AMGL","MVAR","MLAN","AWDR","Co-GCN","HLR-M²VS","ERL-MSC"],"range":["#FF8000","#0000FF","#808080","#DD77DD","#8B1A1A","#00C878","#1E90FF","#FF0000"]}},"fill":{"field":"m","type":"nominal","legend":{"title":null},"scale":{"domain":["SVM","AMGL","MVAR","MLAN","AWDR","Co-GCN","HLR-M²VS","ERL-MSC"],"range":["#FF8000","#ffffff","#808080","#ffffff","#ffffff","#00C878","#1E90FF","#FF0000"]}},"shape":{"field":"m","type":"nominal","legend":{"title":null},"scale":{"domain":["SVM","AMGL","MVAR","MLAN","AWDR","Co-GCN","HLR-M²VS","ERL-MSC"],"range":["M-6.6,0H-5.7M-4.9,0H-4M-3.2,0H-2.4M2.4,0H3.2M4,0H4.9M5.7,0H6.6M-2,-1.3L2,-1.3L0,2.1Z","M-6.6,0H-5.7M-4.9,0H-4M-3.2,0H-2.4M2.4,0H3.2M4,0H4.9M5.7,0H6.6M2,0A2,2 0 1,1 -2,0A2,2 0 1,1 2,0Z","M-6.6,0H-5.7M-4.9,0H-4M-3.2,0H-2.4M2.4,0H3.2M4,0H4.9M5.7,0H6.6M2,0A2,2 0 1,1 -2,0A2,2 0 1,1 2,0Z","M-6.6,0H-5.7M-4.9,0H-4M-3.2,0H-2.4M2.4,0H3.2M4,0H4.9M5.7,0H6.6M-1.8,-1.8H1.8V1.8H-1.8Z","M-6.6,0H-5.7M-4.9,0H-4M-3.2,0H-2.4M2.4,0H3.2M4,0H4.9M5.7,0H6.6M0,-2.2L2.2,0L0,2.2L-2.2,0Z","M-6.6,0H-5.7M-4.9,0H-4M-3.2,0H-2.4M2.4,0H3.2M4,0H4.9M5.7,0H6.6M0,-2.6L0.584,-0.804L2.472,-0.804L0.944,0.306L1.528,2.104L0,0.994L-1.528,2.104L-0.944,0.306L-2.472,-0.804L-0.584,-0.804Z","M-6.6,0H-5.7M-4.9,0H-4M-3.2,0H-2.4M2.4,0H3.2M4,0H4.9M5.7,0H6.6M-2,1.3L2,1.3L0,-2.1Z","M-6.6,0H-5.7M-4.9,0H-4M-3.2,0H-2.4M2.4,0H3.2M4,0H4.9M5.7,0H6.6M0,-2.5L0.722,-1.25L2.166,-1.25L1.442,0L2.166,1.25L0.722,1.25L0,2.5L-0.722,1.25L-2.166,1.25L-1.442,0L-2.166,-1.25L-0.722,-1.25Z"]}}}}
]},
{"title":"Caltech101","width":270,"height":212,"transform":[{"filter":"datum.d==='Caltech101'"}],
"encoding":{"x":{"field":"x","type":"quantitative","scale":{"domain":[0.1,0.8],"nice":false,"zero":false},"axis":{"values":[0.1,0.2,0.3,0.4,0.5,0.6,0.7,0.8],"format":".1f","title":"Proportion of labels"}},"y":{"field":"y","type":"quantitative","scale":{"domain":[0,1],"nice":false},"axis":{"values":[0,0.1,0.2,0.3,0.4,0.5,0.6,0.7,0.8,0.9,1],"format":".1~f","title":"Accuracy"}}},
"resolve":{"scale":{"stroke":"independent","fill":"independent","shape":"independent"},"legend":{"stroke":"independent","fill":"independent","shape":"independent"}},
"layer":[
{"mark":{"type":"line","strokeDash":[2,2.5],"strokeWidth":2},"encoding":{"color":{"field":"m","type":"nominal","legend":null,"scale":{"domain":["SVM","AMGL","MVAR","MLAN","AWDR","Co-GCN","HLR-M²VS","ERL-MSC","_"],"range":["#FF8000","#0000FF","#808080","#DD77DD","#8B1A1A","#00C878","#1E90FF","#FF0000","#000000"]}}}},
{"mark":{"type":"point","size":62,"strokeWidth":1.6,"opacity":1},"encoding":{"stroke":{"field":"m","type":"nominal","legend":null,"scale":{"domain":["SVM","AMGL","MVAR","MLAN","AWDR","Co-GCN","HLR-M²VS","ERL-MSC","_"],"range":["#FF8000","#0000FF","#808080","#DD77DD","#8B1A1A","#00C878","#1E90FF","#FF0000","#000000"]}},"fill":{"field":"m","type":"nominal","legend":null,"scale":{"domain":["SVM","AMGL","MVAR","MLAN","AWDR","Co-GCN","HLR-M²VS","ERL-MSC","_"],"range":["#FF8000","#ffffff","#808080","#ffffff","#ffffff","#00C878","#1E90FF","#FF0000","#000000"]}},"shape":{"field":"m","type":"nominal","legend":null,"scale":{"domain":["SVM","AMGL","MVAR","MLAN","AWDR","Co-GCN","HLR-M²VS","ERL-MSC","_"],"range":["triangle-down","circle","circle","square","diamond","M0,-1.3L0.292,-0.402L1.236,-0.402L0.472,0.153L0.764,1.052L0,0.497L-0.764,1.052L-0.472,0.153L-1.236,-0.402L-0.292,-0.402Z","triangle-up","M0,-1.25L0.361,-0.625L1.083,-0.625L0.721,0L1.083,0.625L0.361,0.625L0,1.25L-0.361,0.625L-1.083,0.625L-0.721,0L-1.083,-0.625L-0.361,-0.625Z","circle"]}}}},
{"transform":[{"filter":"false"}],"mark":{"type":"point","size":16,"strokeWidth":1.6,"opacity":1},"encoding":{"stroke":{"field":"m","type":"nominal","legend":{"title":null},"scale":{"domain":["SVM","AMGL","MVAR","MLAN","AWDR","Co-GCN","HLR-M²VS","ERL-MSC"],"range":["#FF8000","#0000FF","#808080","#DD77DD","#8B1A1A","#00C878","#1E90FF","#FF0000"]}},"fill":{"field":"m","type":"nominal","legend":{"title":null},"scale":{"domain":["SVM","AMGL","MVAR","MLAN","AWDR","Co-GCN","HLR-M²VS","ERL-MSC"],"range":["#FF8000","#ffffff","#808080","#ffffff","#ffffff","#00C878","#1E90FF","#FF0000"]}},"shape":{"field":"m","type":"nominal","legend":{"title":null},"scale":{"domain":["SVM","AMGL","MVAR","MLAN","AWDR","Co-GCN","HLR-M²VS","ERL-MSC"],"range":["M-6.6,0H-5.7M-4.9,0H-4M-3.2,0H-2.4M2.4,0H3.2M4,0H4.9M5.7,0H6.6M-2,-1.3L2,-1.3L0,2.1Z","M-6.6,0H-5.7M-4.9,0H-4M-3.2,0H-2.4M2.4,0H3.2M4,0H4.9M5.7,0H6.6M2,0A2,2 0 1,1 -2,0A2,2 0 1,1 2,0Z","M-6.6,0H-5.7M-4.9,0H-4M-3.2,0H-2.4M2.4,0H3.2M4,0H4.9M5.7,0H6.6M2,0A2,2 0 1,1 -2,0A2,2 0 1,1 2,0Z","M-6.6,0H-5.7M-4.9,0H-4M-3.2,0H-2.4M2.4,0H3.2M4,0H4.9M5.7,0H6.6M-1.8,-1.8H1.8V1.8H-1.8Z","M-6.6,0H-5.7M-4.9,0H-4M-3.2,0H-2.4M2.4,0H3.2M4,0H4.9M5.7,0H6.6M0,-2.2L2.2,0L0,2.2L-2.2,0Z","M-6.6,0H-5.7M-4.9,0H-4M-3.2,0H-2.4M2.4,0H3.2M4,0H4.9M5.7,0H6.6M0,-2.6L0.584,-0.804L2.472,-0.804L0.944,0.306L1.528,2.104L0,0.994L-1.528,2.104L-0.944,0.306L-2.472,-0.804L-0.584,-0.804Z","M-6.6,0H-5.7M-4.9,0H-4M-3.2,0H-2.4M2.4,0H3.2M4,0H4.9M5.7,0H6.6M-2,1.3L2,1.3L0,-2.1Z","M-6.6,0H-5.7M-4.9,0H-4M-3.2,0H-2.4M2.4,0H3.2M4,0H4.9M5.7,0H6.6M0,-2.5L0.722,-1.25L2.166,-1.25L1.442,0L2.166,1.25L0.722,1.25L0,2.5L-0.722,1.25L-2.166,1.25L-1.442,0L-2.166,-1.25L-0.722,-1.25Z"]}}}}
]},
{"title":"HW","width":270,"height":212,"transform":[{"filter":"datum.d==='HW'"}],
"encoding":{"x":{"field":"x","type":"quantitative","scale":{"domain":[0.1,0.8],"nice":false,"zero":false},"axis":{"values":[0.1,0.2,0.3,0.4,0.5,0.6,0.7,0.8],"format":".1f","title":"Proportion of labels"}},"y":{"field":"y","type":"quantitative","scale":{"domain":[0,1],"nice":false},"axis":{"values":[0,0.1,0.2,0.3,0.4,0.5,0.6,0.7,0.8,0.9,1],"format":".1~f","title":"Accuracy"}}},
"resolve":{"scale":{"stroke":"independent","fill":"independent","shape":"independent"},"legend":{"stroke":"independent","fill":"independent","shape":"independent"}},
"layer":[
{"mark":{"type":"line","strokeDash":[2,2.5],"strokeWidth":2},"encoding":{"color":{"field":"m","type":"nominal","legend":null,"scale":{"domain":["SVM","AMGL","MVAR","MLAN","AWDR","Co-GCN","HLR-M²VS","ERL-MSC","_"],"range":["#FF8000","#0000FF","#808080","#DD77DD","#8B1A1A","#00C878","#1E90FF","#FF0000","#000000"]}}}},
{"mark":{"type":"point","size":62,"strokeWidth":1.6,"opacity":1},"encoding":{"stroke":{"field":"m","type":"nominal","legend":null,"scale":{"domain":["SVM","AMGL","MVAR","MLAN","AWDR","Co-GCN","HLR-M²VS","ERL-MSC","_"],"range":["#FF8000","#0000FF","#808080","#DD77DD","#8B1A1A","#00C878","#1E90FF","#FF0000","#000000"]}},"fill":{"field":"m","type":"nominal","legend":null,"scale":{"domain":["SVM","AMGL","MVAR","MLAN","AWDR","Co-GCN","HLR-M²VS","ERL-MSC","_"],"range":["#FF8000","#ffffff","#808080","#ffffff","#ffffff","#00C878","#1E90FF","#FF0000","#000000"]}},"shape":{"field":"m","type":"nominal","legend":null,"scale":{"domain":["SVM","AMGL","MVAR","MLAN","AWDR","Co-GCN","HLR-M²VS","ERL-MSC","_"],"range":["triangle-down","circle","circle","square","diamond","M0,-1.3L0.292,-0.402L1.236,-0.402L0.472,0.153L0.764,1.052L0,0.497L-0.764,1.052L-0.472,0.153L-1.236,-0.402L-0.292,-0.402Z","triangle-up","M0,-1.25L0.361,-0.625L1.083,-0.625L0.721,0L1.083,0.625L0.361,0.625L0,1.25L-0.361,0.625L-1.083,0.625L-0.721,0L-1.083,-0.625L-0.361,-0.625Z","circle"]}}}},
{"transform":[{"filter":"false"}],"mark":{"type":"point","size":16,"strokeWidth":1.6,"opacity":1},"encoding":{"stroke":{"field":"m","type":"nominal","legend":{"title":null},"scale":{"domain":["SVM","AMGL","MVAR","MLAN","AWDR","Co-GCN","HLR-M²VS","ERL-MSC"],"range":["#FF8000","#0000FF","#808080","#DD77DD","#8B1A1A","#00C878","#1E90FF","#FF0000"]}},"fill":{"field":"m","type":"nominal","legend":{"title":null},"scale":{"domain":["SVM","AMGL","MVAR","MLAN","AWDR","Co-GCN","HLR-M²VS","ERL-MSC"],"range":["#FF8000","#ffffff","#808080","#ffffff","#ffffff","#00C878","#1E90FF","#FF0000"]}},"shape":{"field":"m","type":"nominal","legend":{"title":null},"scale":{"domain":["SVM","AMGL","MVAR","MLAN","AWDR","Co-GCN","HLR-M²VS","ERL-MSC"],"range":["M-6.6,0H-5.7M-4.9,0H-4M-3.2,0H-2.4M2.4,0H3.2M4,0H4.9M5.7,0H6.6M-2,-1.3L2,-1.3L0,2.1Z","M-6.6,0H-5.7M-4.9,0H-4M-3.2,0H-2.4M2.4,0H3.2M4,0H4.9M5.7,0H6.6M2,0A2,2 0 1,1 -2,0A2,2 0 1,1 2,0Z","M-6.6,0H-5.7M-4.9,0H-4M-3.2,0H-2.4M2.4,0H3.2M4,0H4.9M5.7,0H6.6M2,0A2,2 0 1,1 -2,0A2,2 0 1,1 2,0Z","M-6.6,0H-5.7M-4.9,0H-4M-3.2,0H-2.4M2.4,0H3.2M4,0H4.9M5.7,0H6.6M-1.8,-1.8H1.8V1.8H-1.8Z","M-6.6,0H-5.7M-4.9,0H-4M-3.2,0H-2.4M2.4,0H3.2M4,0H4.9M5.7,0H6.6M0,-2.2L2.2,0L0,2.2L-2.2,0Z","M-6.6,0H-5.7M-4.9,0H-4M-3.2,0H-2.4M2.4,0H3.2M4,0H4.9M5.7,0H6.6M0,-2.6L0.584,-0.804L2.472,-0.804L0.944,0.306L1.528,2.104L0,0.994L-1.528,2.104L-0.944,0.306L-2.472,-0.804L-0.584,-0.804Z","M-6.6,0H-5.7M-4.9,0H-4M-3.2,0H-2.4M2.4,0H3.2M4,0H4.9M5.7,0H6.6M-2,1.3L2,1.3L0,-2.1Z","M-6.6,0H-5.7M-4.9,0H-4M-3.2,0H-2.4M2.4,0H3.2M4,0H4.9M5.7,0H6.6M0,-2.5L0.722,-1.25L2.166,-1.25L1.442,0L2.166,1.25L0.722,1.25L0,2.5L-0.722,1.25L-2.166,1.25L-1.442,0L-2.166,-1.25L-0.722,-1.25Z"]}}}}
]},
{"title":"MNIST","width":270,"height":212,"transform":[{"filter":"datum.d==='MNIST'"}],
"encoding":{"x":{"field":"x","type":"quantitative","scale":{"domain":[0.1,0.8],"nice":false,"zero":false},"axis":{"values":[0.1,0.2,0.3,0.4,0.5,0.6,0.7,0.8],"format":".1f","title":"Proportion of labels"}},"y":{"field":"y","type":"quantitative","scale":{"domain":[0,1],"nice":false},"axis":{"values":[0,0.1,0.2,0.3,0.4,0.5,0.6,0.7,0.8,0.9,1],"format":".1~f","title":"Accuracy"}}},
"resolve":{"scale":{"stroke":"independent","fill":"independent","shape":"independent"},"legend":{"stroke":"independent","fill":"independent","shape":"independent"}},
"layer":[
{"mark":{"type":"line","strokeDash":[2,2.5],"strokeWidth":2},"encoding":{"color":{"field":"m","type":"nominal","legend":null,"scale":{"domain":["SVM","AMGL","MVAR","MLAN","AWDR","Co-GCN","HLR-M²VS","ERL-MSC","_"],"range":["#FF8000","#0000FF","#808080","#DD77DD","#8B1A1A","#00C878","#1E90FF","#FF0000","#000000"]}}}},
{"mark":{"type":"point","size":62,"strokeWidth":1.6,"opacity":1},"encoding":{"stroke":{"field":"m","type":"nominal","legend":null,"scale":{"domain":["SVM","AMGL","MVAR","MLAN","AWDR","Co-GCN","HLR-M²VS","ERL-MSC","_"],"range":["#FF8000","#0000FF","#808080","#DD77DD","#8B1A1A","#00C878","#1E90FF","#FF0000","#000000"]}},"fill":{"field":"m","type":"nominal","legend":null,"scale":{"domain":["SVM","AMGL","MVAR","MLAN","AWDR","Co-GCN","HLR-M²VS","ERL-MSC","_"],"range":["#FF8000","#ffffff","#808080","#ffffff","#ffffff","#00C878","#1E90FF","#FF0000","#000000"]}},"shape":{"field":"m","type":"nominal","legend":null,"scale":{"domain":["SVM","AMGL","MVAR","MLAN","AWDR","Co-GCN","HLR-M²VS","ERL-MSC","_"],"range":["triangle-down","circle","circle","square","diamond","M0,-1.3L0.292,-0.402L1.236,-0.402L0.472,0.153L0.764,1.052L0,0.497L-0.764,1.052L-0.472,0.153L-1.236,-0.402L-0.292,-0.402Z","triangle-up","M0,-1.25L0.361,-0.625L1.083,-0.625L0.721,0L1.083,0.625L0.361,0.625L0,1.25L-0.361,0.625L-1.083,0.625L-0.721,0L-1.083,-0.625L-0.361,-0.625Z","circle"]}}}},
{"transform":[{"filter":"false"}],"mark":{"type":"point","size":16,"strokeWidth":1.6,"opacity":1},"encoding":{"stroke":{"field":"m","type":"nominal","legend":{"title":null,"orient":"none","legendX":56,"legendY":159},"scale":{"domain":["SVM","AMGL","MVAR","MLAN","AWDR","Co-GCN","HLR-M²VS","ERL-MSC"],"range":["#FF8000","#0000FF","#808080","#DD77DD","#8B1A1A","#00C878","#1E90FF","#FF0000"]}},"fill":{"field":"m","type":"nominal","legend":{"title":null,"orient":"none","legendX":56,"legendY":159},"scale":{"domain":["SVM","AMGL","MVAR","MLAN","AWDR","Co-GCN","HLR-M²VS","ERL-MSC"],"range":["#FF8000","#ffffff","#808080","#ffffff","#ffffff","#00C878","#1E90FF","#FF0000"]}},"shape":{"field":"m","type":"nominal","legend":{"title":null,"orient":"none","legendX":56,"legendY":159},"scale":{"domain":["SVM","AMGL","MVAR","MLAN","AWDR","Co-GCN","HLR-M²VS","ERL-MSC"],"range":["M-6.6,0H-5.7M-4.9,0H-4M-3.2,0H-2.4M2.4,0H3.2M4,0H4.9M5.7,0H6.6M-2,-1.3L2,-1.3L0,2.1Z","M-6.6,0H-5.7M-4.9,0H-4M-3.2,0H-2.4M2.4,0H3.2M4,0H4.9M5.7,0H6.6M2,0A2,2 0 1,1 -2,0A2,2 0 1,1 2,0Z","M-6.6,0H-5.7M-4.9,0H-4M-3.2,0H-2.4M2.4,0H3.2M4,0H4.9M5.7,0H6.6M2,0A2,2 0 1,1 -2,0A2,2 0 1,1 2,0Z","M-6.6,0H-5.7M-4.9,0H-4M-3.2,0H-2.4M2.4,0H3.2M4,0H4.9M5.7,0H6.6M-1.8,-1.8H1.8V1.8H-1.8Z","M-6.6,0H-5.7M-4.9,0H-4M-3.2,0H-2.4M2.4,0H3.2M4,0H4.9M5.7,0H6.6M0,-2.2L2.2,0L0,2.2L-2.2,0Z","M-6.6,0H-5.7M-4.9,0H-4M-3.2,0H-2.4M2.4,0H3.2M4,0H4.9M5.7,0H6.6M0,-2.6L0.584,-0.804L2.472,-0.804L0.944,0.306L1.528,2.104L0,0.994L-1.528,2.104L-0.944,0.306L-2.472,-0.804L-0.584,-0.804Z","M-6.6,0H-5.7M-4.9,0H-4M-3.2,0H-2.4M2.4,0H3.2M4,0H4.9M5.7,0H6.6M-2,1.3L2,1.3L0,-2.1Z","M-6.6,0H-5.7M-4.9,0H-4M-3.2,0H-2.4M2.4,0H3.2M4,0H4.9M5.7,0H6.6M0,-2.5L0.722,-1.25L2.166,-1.25L1.442,0L2.166,1.25L0.722,1.25L0,2.5L-0.722,1.25L-2.166,1.25L-1.442,0L-2.166,-1.25L-0.722,-1.25Z"]}}}}
]},
{"title":"YouTube","width":270,"height":212,"transform":[{"filter":"datum.d==='YouTube'"}],
"encoding":{"x":{"field":"x","type":"quantitative","scale":{"domain":[0.1,0.8],"nice":false,"zero":false},"axis":{"values":[0.1,0.2,0.3,0.4,0.5,0.6,0.7,0.8],"format":".1f","title":"Proportion of labels"}},"y":{"field":"y","type":"quantitative","scale":{"domain":[0,1],"nice":false},"axis":{"values":[0,0.1,0.2,0.3,0.4,0.5,0.6,0.7,0.8,0.9,1],"format":".1~f","title":"Accuracy"}}},
"resolve":{"scale":{"stroke":"independent","fill":"independent","shape":"independent"},"legend":{"stroke":"independent","fill":"independent","shape":"independent"}},
"layer":[
{"mark":{"type":"line","strokeDash":[2,2.5],"strokeWidth":2},"encoding":{"color":{"field":"m","type":"nominal","legend":null,"scale":{"domain":["SVM","AMGL","MVAR","MLAN","AWDR","Co-GCN","HLR-M²VS","ERL-MSC","_"],"range":["#FF8000","#0000FF","#808080","#DD77DD","#8B1A1A","#00C878","#1E90FF","#FF0000","#000000"]}}}},
{"mark":{"type":"point","size":62,"strokeWidth":1.6,"opacity":1},"encoding":{"stroke":{"field":"m","type":"nominal","legend":null,"scale":{"domain":["SVM","AMGL","MVAR","MLAN","AWDR","Co-GCN","HLR-M²VS","ERL-MSC","_"],"range":["#FF8000","#0000FF","#808080","#DD77DD","#8B1A1A","#00C878","#1E90FF","#FF0000","#000000"]}},"fill":{"field":"m","type":"nominal","legend":null,"scale":{"domain":["SVM","AMGL","MVAR","MLAN","AWDR","Co-GCN","HLR-M²VS","ERL-MSC","_"],"range":["#FF8000","#ffffff","#808080","#ffffff","#ffffff","#00C878","#1E90FF","#FF0000","#000000"]}},"shape":{"field":"m","type":"nominal","legend":null,"scale":{"domain":["SVM","AMGL","MVAR","MLAN","AWDR","Co-GCN","HLR-M²VS","ERL-MSC","_"],"range":["triangle-down","circle","circle","square","diamond","M0,-1.3L0.292,-0.402L1.236,-0.402L0.472,0.153L0.764,1.052L0,0.497L-0.764,1.052L-0.472,0.153L-1.236,-0.402L-0.292,-0.402Z","triangle-up","M0,-1.25L0.361,-0.625L1.083,-0.625L0.721,0L1.083,0.625L0.361,0.625L0,1.25L-0.361,0.625L-1.083,0.625L-0.721,0L-1.083,-0.625L-0.361,-0.625Z","circle"]}}}},
{"transform":[{"filter":"false"}],"mark":{"type":"point","size":16,"strokeWidth":1.6,"opacity":1},"encoding":{"stroke":{"field":"m","type":"nominal","legend":{"title":null},"scale":{"domain":["SVM","AMGL","MVAR","MLAN","AWDR","Co-GCN","HLR-M²VS","ERL-MSC"],"range":["#FF8000","#0000FF","#808080","#DD77DD","#8B1A1A","#00C878","#1E90FF","#FF0000"]}},"fill":{"field":"m","type":"nominal","legend":{"title":null},"scale":{"domain":["SVM","AMGL","MVAR","MLAN","AWDR","Co-GCN","HLR-M²VS","ERL-MSC"],"range":["#FF8000","#ffffff","#808080","#ffffff","#ffffff","#00C878","#1E90FF","#FF0000"]}},"shape":{"field":"m","type":"nominal","legend":{"title":null},"scale":{"domain":["SVM","AMGL","MVAR","MLAN","AWDR","Co-GCN","HLR-M²VS","ERL-MSC"],"range":["M-6.6,0H-5.7M-4.9,0H-4M-3.2,0H-2.4M2.4,0H3.2M4,0H4.9M5.7,0H6.6M-2,-1.3L2,-1.3L0,2.1Z","M-6.6,0H-5.7M-4.9,0H-4M-3.2,0H-2.4M2.4,0H3.2M4,0H4.9M5.7,0H6.6M2,0A2,2 0 1,1 -2,0A2,2 0 1,1 2,0Z","M-6.6,0H-5.7M-4.9,0H-4M-3.2,0H-2.4M2.4,0H3.2M4,0H4.9M5.7,0H6.6M2,0A2,2 0 1,1 -2,0A2,2 0 1,1 2,0Z","M-6.6,0H-5.7M-4.9,0H-4M-3.2,0H-2.4M2.4,0H3.2M4,0H4.9M5.7,0H6.6M-1.8,-1.8H1.8V1.8H-1.8Z","M-6.6,0H-5.7M-4.9,0H-4M-3.2,0H-2.4M2.4,0H3.2M4,0H4.9M5.7,0H6.6M0,-2.2L2.2,0L0,2.2L-2.2,0Z","M-6.6,0H-5.7M-4.9,0H-4M-3.2,0H-2.4M2.4,0H3.2M4,0H4.9M5.7,0H6.6M0,-2.6L0.584,-0.804L2.472,-0.804L0.944,0.306L1.528,2.104L0,0.994L-1.528,2.104L-0.944,0.306L-2.472,-0.804L-0.584,-0.804Z","M-6.6,0H-5.7M-4.9,0H-4M-3.2,0H-2.4M2.4,0H3.2M4,0H4.9M5.7,0H6.6M-2,1.3L2,1.3L0,-2.1Z","M-6.6,0H-5.7M-4.9,0H-4M-3.2,0H-2.4M2.4,0H3.2M4,0H4.9M5.7,0H6.6M0,-2.5L0.722,-1.25L2.166,-1.25L1.442,0L2.166,1.25L0.722,1.25L0,2.5L-0.722,1.25L-2.166,1.25L-1.442,0L-2.166,-1.25L-0.722,-1.25Z"]}}}}
]},
{"title":"3sourse","width":270,"height":212,"transform":[{"filter":"datum.d==='3sourse'"}],
"encoding":{"x":{"field":"x","type":"quantitative","scale":{"domain":[0.1,0.8],"nice":false,"zero":false},"axis":{"values":[0.1,0.2,0.3,0.4,0.5,0.6,0.7,0.8],"format":".1f","title":"Proportion of labels"}},"y":{"field":"y","type":"quantitative","scale":{"domain":[0,1],"nice":false},"axis":{"values":[0,0.1,0.2,0.3,0.4,0.5,0.6,0.7,0.8,0.9,1],"format":".1~f","title":"Accuracy"}}},
"resolve":{"scale":{"stroke":"independent","fill":"independent","shape":"independent"},"legend":{"stroke":"independent","fill":"independent","shape":"independent"}},
"layer":[
{"mark":{"type":"line","strokeDash":[2,2.5],"strokeWidth":2},"encoding":{"color":{"field":"m","type":"nominal","legend":null,"scale":{"domain":["SVM","AMGL","MVAR","MLAN","AWDR","Co-GCN","HLR-M²VS","ERL-MSC","_"],"range":["#FF8000","#0000FF","#808080","#DD77DD","#8B1A1A","#00C878","#1E90FF","#FF0000","#000000"]}}}},
{"mark":{"type":"point","size":62,"strokeWidth":1.6,"opacity":1},"encoding":{"stroke":{"field":"m","type":"nominal","legend":null,"scale":{"domain":["SVM","AMGL","MVAR","MLAN","AWDR","Co-GCN","HLR-M²VS","ERL-MSC","_"],"range":["#FF8000","#0000FF","#808080","#DD77DD","#8B1A1A","#00C878","#1E90FF","#FF0000","#000000"]}},"fill":{"field":"m","type":"nominal","legend":null,"scale":{"domain":["SVM","AMGL","MVAR","MLAN","AWDR","Co-GCN","HLR-M²VS","ERL-MSC","_"],"range":["#FF8000","#ffffff","#808080","#ffffff","#ffffff","#00C878","#1E90FF","#FF0000","#000000"]}},"shape":{"field":"m","type":"nominal","legend":null,"scale":{"domain":["SVM","AMGL","MVAR","MLAN","AWDR","Co-GCN","HLR-M²VS","ERL-MSC","_"],"range":["triangle-down","circle","circle","square","diamond","M0,-1.3L0.292,-0.402L1.236,-0.402L0.472,0.153L0.764,1.052L0,0.497L-0.764,1.052L-0.472,0.153L-1.236,-0.402L-0.292,-0.402Z","triangle-up","M0,-1.25L0.361,-0.625L1.083,-0.625L0.721,0L1.083,0.625L0.361,0.625L0,1.25L-0.361,0.625L-1.083,0.625L-0.721,0L-1.083,-0.625L-0.361,-0.625Z","circle"]}}}},
{"transform":[{"filter":"false"}],"mark":{"type":"point","size":16,"strokeWidth":1.6,"opacity":1},"encoding":{"stroke":{"field":"m","type":"nominal","legend":{"title":null},"scale":{"domain":["SVM","AMGL","MVAR","MLAN","AWDR","Co-GCN","HLR-M²VS","ERL-MSC"],"range":["#FF8000","#0000FF","#808080","#DD77DD","#8B1A1A","#00C878","#1E90FF","#FF0000"]}},"fill":{"field":"m","type":"nominal","legend":{"title":null},"scale":{"domain":["SVM","AMGL","MVAR","MLAN","AWDR","Co-GCN","HLR-M²VS","ERL-MSC"],"range":["#FF8000","#ffffff","#808080","#ffffff","#ffffff","#00C878","#1E90FF","#FF0000"]}},"shape":{"field":"m","type":"nominal","legend":{"title":null},"scale":{"domain":["SVM","AMGL","MVAR","MLAN","AWDR","Co-GCN","HLR-M²VS","ERL-MSC"],"range":["M-6.6,0H-5.7M-4.9,0H-4M-3.2,0H-2.4M2.4,0H3.2M4,0H4.9M5.7,0H6.6M-2,-1.3L2,-1.3L0,2.1Z","M-6.6,0H-5.7M-4.9,0H-4M-3.2,0H-2.4M2.4,0H3.2M4,0H4.9M5.7,0H6.6M2,0A2,2 0 1,1 -2,0A2,2 0 1,1 2,0Z","M-6.6,0H-5.7M-4.9,0H-4M-3.2,0H-2.4M2.4,0H3.2M4,0H4.9M5.7,0H6.6M2,0A2,2 0 1,1 -2,0A2,2 0 1,1 2,0Z","M-6.6,0H-5.7M-4.9,0H-4M-3.2,0H-2.4M2.4,0H3.2M4,0H4.9M5.7,0H6.6M-1.8,-1.8H1.8V1.8H-1.8Z","M-6.6,0H-5.7M-4.9,0H-4M-3.2,0H-2.4M2.4,0H3.2M4,0H4.9M5.7,0H6.6M0,-2.2L2.2,0L0,2.2L-2.2,0Z","M-6.6,0H-5.7M-4.9,0H-4M-3.2,0H-2.4M2.4,0H3.2M4,0H4.9M5.7,0H6.6M0,-2.6L0.584,-0.804L2.472,-0.804L0.944,0.306L1.528,2.104L0,0.994L-1.528,2.104L-0.944,0.306L-2.472,-0.804L-0.584,-0.804Z","M-6.6,0H-5.7M-4.9,0H-4M-3.2,0H-2.4M2.4,0H3.2M4,0H4.9M5.7,0H6.6M-2,1.3L2,1.3L0,-2.1Z","M-6.6,0H-5.7M-4.9,0H-4M-3.2,0H-2.4M2.4,0H3.2M4,0H4.9M5.7,0H6.6M0,-2.5L0.722,-1.25L2.166,-1.25L1.442,0L2.166,1.25L0.722,1.25L0,2.5L-0.722,1.25L-2.166,1.25L-1.442,0L-2.166,-1.25L-0.722,-1.25Z"]}}}}
]},
{"title":"BBCnews","width":270,"height":212,"transform":[{"filter":"datum.d==='BBCnews'"}],
"encoding":{"x":{"field":"x","type":"quantitative","scale":{"domain":[0.1,0.8],"nice":false,"zero":false},"axis":{"values":[0.1,0.2,0.3,0.4,0.5,0.6,0.7,0.8],"format":".1f","title":"Proportion of labels"}},"y":{"field":"y","type":"quantitative","scale":{"domain":[0,1],"nice":false},"axis":{"values":[0,0.1,0.2,0.3,0.4,0.5,0.6,0.7,0.8,0.9,1],"format":".1~f","title":"Accuracy"}}},
"resolve":{"scale":{"stroke":"independent","fill":"independent","shape":"independent"},"legend":{"stroke":"independent","fill":"independent","shape":"independent"}},
"layer":[
{"mark":{"type":"line","strokeDash":[2,2.5],"strokeWidth":2},"encoding":{"color":{"field":"m","type":"nominal","legend":null,"scale":{"domain":["SVM","AMGL","MVAR","MLAN","AWDR","Co-GCN","HLR-M²VS","ERL-MSC","_"],"range":["#FF8000","#0000FF","#808080","#DD77DD","#8B1A1A","#00C878","#1E90FF","#FF0000","#000000"]}}}},
{"mark":{"type":"point","size":62,"strokeWidth":1.6,"opacity":1},"encoding":{"stroke":{"field":"m","type":"nominal","legend":null,"scale":{"domain":["SVM","AMGL","MVAR","MLAN","AWDR","Co-GCN","HLR-M²VS","ERL-MSC","_"],"range":["#FF8000","#0000FF","#808080","#DD77DD","#8B1A1A","#00C878","#1E90FF","#FF0000","#000000"]}},"fill":{"field":"m","type":"nominal","legend":null,"scale":{"domain":["SVM","AMGL","MVAR","MLAN","AWDR","Co-GCN","HLR-M²VS","ERL-MSC","_"],"range":["#FF8000","#ffffff","#808080","#ffffff","#ffffff","#00C878","#1E90FF","#FF0000","#000000"]}},"shape":{"field":"m","type":"nominal","legend":null,"scale":{"domain":["SVM","AMGL","MVAR","MLAN","AWDR","Co-GCN","HLR-M²VS","ERL-MSC","_"],"range":["triangle-down","circle","circle","square","diamond","M0,-1.3L0.292,-0.402L1.236,-0.402L0.472,0.153L0.764,1.052L0,0.497L-0.764,1.052L-0.472,0.153L-1.236,-0.402L-0.292,-0.402Z","triangle-up","M0,-1.25L0.361,-0.625L1.083,-0.625L0.721,0L1.083,0.625L0.361,0.625L0,1.25L-0.361,0.625L-1.083,0.625L-0.721,0L-1.083,-0.625L-0.361,-0.625Z","circle"]}}}},
{"transform":[{"filter":"false"}],"mark":{"type":"point","size":16,"strokeWidth":1.6,"opacity":1},"encoding":{"stroke":{"field":"m","type":"nominal","legend":{"title":null},"scale":{"domain":["SVM","AMGL","MVAR","MLAN","AWDR","Co-GCN","HLR-M²VS","ERL-MSC"],"range":["#FF8000","#0000FF","#808080","#DD77DD","#8B1A1A","#00C878","#1E90FF","#FF0000"]}},"fill":{"field":"m","type":"nominal","legend":{"title":null},"scale":{"domain":["SVM","AMGL","MVAR","MLAN","AWDR","Co-GCN","HLR-M²VS","ERL-MSC"],"range":["#FF8000","#ffffff","#808080","#ffffff","#ffffff","#00C878","#1E90FF","#FF0000"]}},"shape":{"field":"m","type":"nominal","legend":{"title":null},"scale":{"domain":["SVM","AMGL","MVAR","MLAN","AWDR","Co-GCN","HLR-M²VS","ERL-MSC"],"range":["M-6.6,0H-5.7M-4.9,0H-4M-3.2,0H-2.4M2.4,0H3.2M4,0H4.9M5.7,0H6.6M-2,-1.3L2,-1.3L0,2.1Z","M-6.6,0H-5.7M-4.9,0H-4M-3.2,0H-2.4M2.4,0H3.2M4,0H4.9M5.7,0H6.6M2,0A2,2 0 1,1 -2,0A2,2 0 1,1 2,0Z","M-6.6,0H-5.7M-4.9,0H-4M-3.2,0H-2.4M2.4,0H3.2M4,0H4.9M5.7,0H6.6M2,0A2,2 0 1,1 -2,0A2,2 0 1,1 2,0Z","M-6.6,0H-5.7M-4.9,0H-4M-3.2,0H-2.4M2.4,0H3.2M4,0H4.9M5.7,0H6.6M-1.8,-1.8H1.8V1.8H-1.8Z","M-6.6,0H-5.7M-4.9,0H-4M-3.2,0H-2.4M2.4,0H3.2M4,0H4.9M5.7,0H6.6M0,-2.2L2.2,0L0,2.2L-2.2,0Z","M-6.6,0H-5.7M-4.9,0H-4M-3.2,0H-2.4M2.4,0H3.2M4,0H4.9M5.7,0H6.6M0,-2.6L0.584,-0.804L2.472,-0.804L0.944,0.306L1.528,2.104L0,0.994L-1.528,2.104L-0.944,0.306L-2.472,-0.804L-0.584,-0.804Z","M-6.6,0H-5.7M-4.9,0H-4M-3.2,0H-2.4M2.4,0H3.2M4,0H4.9M5.7,0H6.6M-2,1.3L2,1.3L0,-2.1Z","M-6.6,0H-5.7M-4.9,0H-4M-3.2,0H-2.4M2.4,0H3.2M4,0H4.9M5.7,0H6.6M0,-2.5L0.722,-1.25L2.166,-1.25L1.442,0L2.166,1.25L0.722,1.25L0,2.5L-0.722,1.25L-2.166,1.25L-1.442,0L-2.166,-1.25L-0.722,-1.25Z"]}}}}
]},
{"title":"BBCsports","width":270,"height":212,"transform":[{"filter":"datum.d==='BBCsports'"}],
"encoding":{"x":{"field":"x","type":"quantitative","scale":{"domain":[0.1,0.8],"nice":false,"zero":false},"axis":{"values":[0.1,0.2,0.3,0.4,0.5,0.6,0.7,0.8],"format":".1f","title":"Proportion of labels"}},"y":{"field":"y","type":"quantitative","scale":{"domain":[0,1],"nice":false},"axis":{"values":[0,0.1,0.2,0.3,0.4,0.5,0.6,0.7,0.8,0.9,1],"format":".1~f","title":"Accuracy"}}},
"resolve":{"scale":{"stroke":"independent","fill":"independent","shape":"independent"},"legend":{"stroke":"independent","fill":"independent","shape":"independent"}},
"layer":[
{"mark":{"type":"line","strokeDash":[2,2.5],"strokeWidth":2},"encoding":{"color":{"field":"m","type":"nominal","legend":null,"scale":{"domain":["SVM","AMGL","MVAR","MLAN","AWDR","Co-GCN","HLR-M²VS","ERL-MSC","_"],"range":["#FF8000","#0000FF","#808080","#DD77DD","#8B1A1A","#00C878","#1E90FF","#FF0000","#000000"]}}}},
{"mark":{"type":"point","size":62,"strokeWidth":1.6,"opacity":1},"encoding":{"stroke":{"field":"m","type":"nominal","legend":null,"scale":{"domain":["SVM","AMGL","MVAR","MLAN","AWDR","Co-GCN","HLR-M²VS","ERL-MSC","_"],"range":["#FF8000","#0000FF","#808080","#DD77DD","#8B1A1A","#00C878","#1E90FF","#FF0000","#000000"]}},"fill":{"field":"m","type":"nominal","legend":null,"scale":{"domain":["SVM","AMGL","MVAR","MLAN","AWDR","Co-GCN","HLR-M²VS","ERL-MSC","_"],"range":["#FF8000","#ffffff","#808080","#ffffff","#ffffff","#00C878","#1E90FF","#FF0000","#000000"]}},"shape":{"field":"m","type":"nominal","legend":null,"scale":{"domain":["SVM","AMGL","MVAR","MLAN","AWDR","Co-GCN","HLR-M²VS","ERL-MSC","_"],"range":["triangle-down","circle","circle","square","diamond","M0,-1.3L0.292,-0.402L1.236,-0.402L0.472,0.153L0.764,1.052L0,0.497L-0.764,1.052L-0.472,0.153L-1.236,-0.402L-0.292,-0.402Z","triangle-up","M0,-1.25L0.361,-0.625L1.083,-0.625L0.721,0L1.083,0.625L0.361,0.625L0,1.25L-0.361,0.625L-1.083,0.625L-0.721,0L-1.083,-0.625L-0.361,-0.625Z","circle"]}}}},
{"transform":[{"filter":"false"}],"mark":{"type":"point","size":16,"strokeWidth":1.6,"opacity":1},"encoding":{"stroke":{"field":"m","type":"nominal","legend":{"title":null},"scale":{"domain":["SVM","AMGL","MVAR","MLAN","AWDR","Co-GCN","HLR-M²VS","ERL-MSC"],"range":["#FF8000","#0000FF","#808080","#DD77DD","#8B1A1A","#00C878","#1E90FF","#FF0000"]}},"fill":{"field":"m","type":"nominal","legend":{"title":null},"scale":{"domain":["SVM","AMGL","MVAR","MLAN","AWDR","Co-GCN","HLR-M²VS","ERL-MSC"],"range":["#FF8000","#ffffff","#808080","#ffffff","#ffffff","#00C878","#1E90FF","#FF0000"]}},"shape":{"field":"m","type":"nominal","legend":{"title":null},"scale":{"domain":["SVM","AMGL","MVAR","MLAN","AWDR","Co-GCN","HLR-M²VS","ERL-MSC"],"range":["M-6.6,0H-5.7M-4.9,0H-4M-3.2,0H-2.4M2.4,0H3.2M4,0H4.9M5.7,0H6.6M-2,-1.3L2,-1.3L0,2.1Z","M-6.6,0H-5.7M-4.9,0H-4M-3.2,0H-2.4M2.4,0H3.2M4,0H4.9M5.7,0H6.6M2,0A2,2 0 1,1 -2,0A2,2 0 1,1 2,0Z","M-6.6,0H-5.7M-4.9,0H-4M-3.2,0H-2.4M2.4,0H3.2M4,0H4.9M5.7,0H6.6M2,0A2,2 0 1,1 -2,0A2,2 0 1,1 2,0Z","M-6.6,0H-5.7M-4.9,0H-4M-3.2,0H-2.4M2.4,0H3.2M4,0H4.9M5.7,0H6.6M-1.8,-1.8H1.8V1.8H-1.8Z","M-6.6,0H-5.7M-4.9,0H-4M-3.2,0H-2.4M2.4,0H3.2M4,0H4.9M5.7,0H6.6M0,-2.2L2.2,0L0,2.2L-2.2,0Z","M-6.6,0H-5.7M-4.9,0H-4M-3.2,0H-2.4M2.4,0H3.2M4,0H4.9M5.7,0H6.6M0,-2.6L0.584,-0.804L2.472,-0.804L0.944,0.306L1.528,2.104L0,0.994L-1.528,2.104L-0.944,0.306L-2.472,-0.804L-0.584,-0.804Z","M-6.6,0H-5.7M-4.9,0H-4M-3.2,0H-2.4M2.4,0H3.2M4,0H4.9M5.7,0H6.6M-2,1.3L2,1.3L0,-2.1Z","M-6.6,0H-5.7M-4.9,0H-4M-3.2,0H-2.4M2.4,0H3.2M4,0H4.9M5.7,0H6.6M0,-2.5L0.722,-1.25L2.166,-1.25L1.442,0L2.166,1.25L0.722,1.25L0,2.5L-0.722,1.25L-2.166,1.25L-1.442,0L-2.166,-1.25L-0.722,-1.25Z"]}}}}
]}
],
"config":{
"view":{"stroke":"#262626","strokeWidth":1.2},
"axis":{"labelFont":"Liberation Sans","labelFontSize":9.5,"labelColor":"#262626","titleFont":"Liberation Sans","titleFontSize":10,"titleFontWeight":"normal","titleColor":"#262626","gridColor":"#e3e3e3","domain":false,"ticks":false,"labelPadding":4,"titlePadding":3,"labelFlush":false,"labelOverlap":false},
"axisX":{"labelPadding":5,"titlePadding":2},
"legend":{"orient":"bottom-right","offset":4,"columns":2,"strokeColor":"#000000","fillColor":"#ffffff","padding":1,"labelFont":"Liberation Sans","labelFontSize":8,"labelColor":"#000000","labelAlign":"left","symbolSize":16,"symbolStrokeWidth":1.6,"symbolOffset":11,"rowPadding":-7.5,"columnPadding":0,"labelOffset":18,"labelLimit":80},
"title":{"orient":"bottom","font":"Liberation Serif","fontSize":24,"fontWeight":"normal","color":"#000000","offset":8,"frame":"group","anchor":"middle"}
}
}
